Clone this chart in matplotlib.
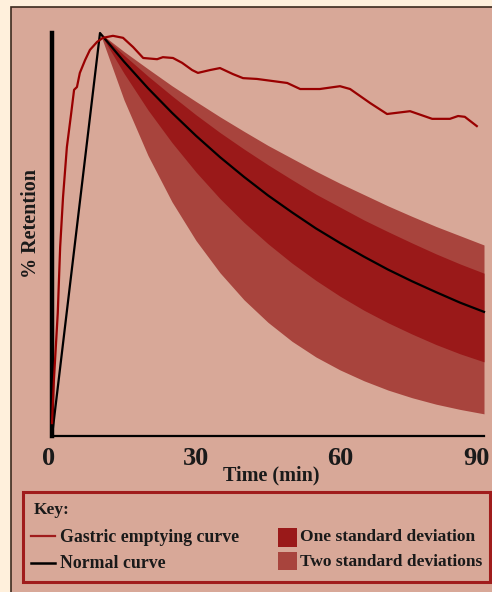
import matplotlib
matplotlib.use("Agg")
import matplotlib.pyplot as plt
from matplotlib.patches import Rectangle
from matplotlib.lines import Line2D
from matplotlib.transforms import ScaledTranslation

# gastric emptying curve
gastric_t = [0, 0.4, 1.2, 1.7, 2.3, 3.1, 4.0, 4.6, 5.2, 5.8, 6.9, 7.9, 9.4, 10.6,
             12.7, 14.8, 16.9, 19.0, 21.9, 23.1, 25.2, 27.1, 29.2, 30.4, 32.9,
             35.0, 37.7, 39.8, 42.7, 49.0, 51.7, 55.8, 60.0, 62.1, 66.3, 69.8,
             74.6, 79.2, 82.9, 84.6, 86.0, 88.5]
gastric_v = [3.2, 13.9, 30.5, 46.9, 59.3, 71.7, 80.1, 85.9, 86.6, 90.1, 93.3, 95.8,
             97.8, 98.8, 99.3, 98.8, 96.5, 93.8, 93.5, 94.0, 93.8, 92.6, 90.8,
             90.1, 90.8, 91.3, 89.8, 88.8, 88.6, 87.6, 86.1, 86.1, 86.8, 86.1,
             82.6, 79.9, 80.6, 78.7, 78.7, 79.4, 79.2, 76.9]

# normal curve
normal_t = [0, 10, 15, 20, 25, 30, 35, 40, 45, 50, 55, 60, 65, 70, 75, 80, 85, 90]
normal_v = [0, 100, 92.9, 86.3, 80.2, 74.5, 69.2, 64.3, 59.7, 55.5, 51.5, 47.9,
            44.5, 41.3, 38.4, 35.7, 33.1, 30.8]

# standard deviation bands
band_t = [10, 15, 20, 25, 30, 35, 40, 45, 50, 55, 60, 65, 70, 75, 80, 85, 90]
sd2_upper = [100, 95.4, 91.1, 86.9, 83.0, 79.2, 75.6, 72.1, 68.9, 65.7, 62.7, 59.9,
             57.1, 54.5, 52.0, 49.7, 47.4]
sd1_upper = [100, 94.5, 89.3, 84.4, 79.7, 75.3, 71.2, 67.3, 63.6, 60.0, 56.8, 53.6,
             50.7, 47.9, 45.2, 42.7, 40.4]
sd1_lower = [100, 90.0, 80.9, 72.8, 65.5, 58.9, 53.0, 47.7, 42.9, 38.6, 34.7, 31.2,
             28.1, 25.3, 22.7, 20.4, 18.4]
sd2_lower = [100, 83.4, 69.6, 58.1, 48.5, 40.5, 33.8, 28.2, 23.5, 19.6, 16.4, 13.7,
             11.4, 9.5, 7.9, 6.6, 5.5]

xticks = [0, 30, 60, 90]

W, H = 492, 592
cream = "#FFF0DC"
panel = "#D8A898"
dark_band = "#9A1919"
light_band = "#A8443D"
red_line = "#990000"
key_red = "#A01C1C"
txt = "#1A1A1A"

plt.rcParams["font.family"] = ["Liberation Serif", "DejaVu Serif"]

def fx(x):
    return x / W

def fy(y):
    return 1 - y / H

fig = plt.figure(figsize=(W / 100, H / 100), dpi=100, facecolor=cream)

# background panel
fig.patches.append(Rectangle((fx(11), -0.1), 1.2, fy(7) + 0.1, transform=fig.transFigure,
                             facecolor=panel, edgecolor="#3C2A1E", linewidth=1.2, zorder=-5))

ax = fig.add_axes([fx(52), fy(436), fx(484) - fx(52), fy(33) - fy(436)])
ax.set_zorder(2)
ax.set_facecolor("none")
ax.set_xlim(0, 90)
ax.set_ylim(0, 100)

ax.fill_between(band_t, sd2_lower, sd2_upper, color=light_band, linewidth=0)
ax.fill_between(band_t, sd1_lower, sd1_upper, color=dark_band, linewidth=0)
ax.plot(normal_t, normal_v, color="black", linewidth=1.6, clip_on=False, zorder=3)
ax.plot(gastric_t, gastric_v, color=red_line, linewidth=1.6, clip_on=False, zorder=4)

for s in ["top", "right"]:
    ax.spines[s].set_visible(False)
ax.spines["left"].set_linewidth(3.2)
ax.spines["bottom"].set_linewidth(1.6)
ax.spines["left"].set_color("black")
ax.spines["bottom"].set_color("black")
ax.set_yticks([])
ax.set_xticks(xticks)
ax.set_xticklabels([str(v) for v in xticks])
ax.tick_params(axis="x", length=0, pad=8, labelsize=19, labelcolor=txt)
for lab in ax.get_xticklabels():
    lab.set_fontweight("bold")
labs = ax.get_xticklabels()
labs[0].set_transform(labs[0].get_transform() + ScaledTranslation(-0.03, 0, fig.dpi_scale_trans))
labs[-1].set_transform(labs[-1].get_transform() + ScaledTranslation(-0.08, 0, fig.dpi_scale_trans))

fig.text(fx(271), fy(475), "Time (min)", ha="center", va="center", fontsize=14.5,
         fontweight="bold", color=txt, zorder=3)
fig.text(fx(31), fy(223), "% Retention", ha="center", va="center", rotation=90,
         fontsize=14.5, fontweight="bold", color=txt, zorder=3)

# key box
fig.patches.append(Rectangle((fx(23), fy(582)), fx(490) - fx(23), fy(492) - fy(582),
                             transform=fig.transFigure, facecolor="none",
                             edgecolor=key_red, linewidth=2.2, zorder=5))
fig.text(fx(34), fy(510), "Key:", ha="left", va="center", fontsize=12.5,
         fontweight="bold", color=txt)
fig.lines.append(Line2D([fx(31), fx(55)], [fy(536), fy(536)], transform=fig.transFigure,
                        color=key_red, linewidth=1.6))
fig.lines.append(Line2D([fx(31), fx(55)], [fy(563), fy(563)], transform=fig.transFigure,
                        color="black", linewidth=1.8))
fig.text(fx(60), fy(537), "Gastric emptying curve", ha="left", va="center",
         fontsize=12.8, fontweight="bold", color=txt)
fig.text(fx(60), fy(563), "Normal curve", ha="left", va="center",
         fontsize=12.8, fontweight="bold", color=txt)
fig.patches.append(Rectangle((fx(278), fy(547)), fx(297) - fx(278), fy(528) - fy(547),
                             transform=fig.transFigure, facecolor=dark_band, linewidth=0))
fig.patches.append(Rectangle((fx(278), fy(570)), fx(297) - fx(278), fy(552) - fy(570),
                             transform=fig.transFigure, facecolor=light_band, linewidth=0))
fig.text(fx(300), fy(537), "One standard deviation", ha="left", va="center",
         fontsize=12.5, fontweight="bold", color=txt)
fig.text(fx(300), fy(562), "Two standard deviations", ha="left", va="center",
         fontsize=12.5, fontweight="bold", color=txt)

plt.savefig("out.png", dpi=100, facecolor=cream)
plt.close()
